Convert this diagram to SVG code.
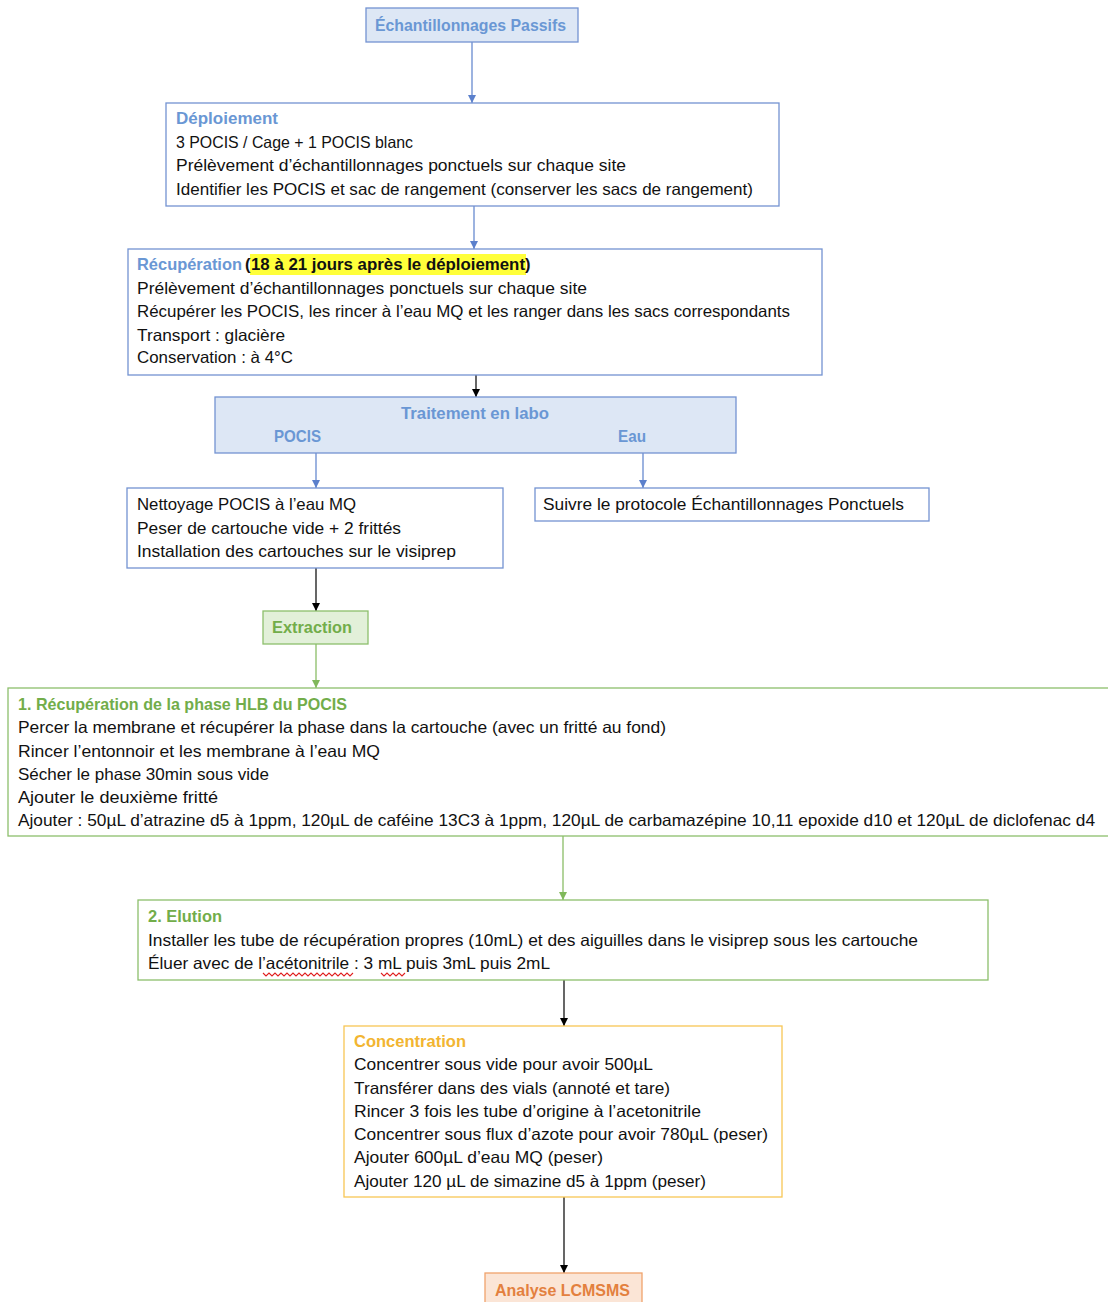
<svg xmlns="http://www.w3.org/2000/svg" width="1108" height="1302" viewBox="0 0 1108 1302">
<style>
text{font-family:"Liberation Sans",Arial,sans-serif;font-size:16.5px;fill:#111}
.h{font-weight:bold}
.hb{fill:#6a97d4;font-weight:bold}
.hg{fill:#72ad4a;font-weight:bold}
.ho{fill:#f2b531;font-weight:bold}
.ha{fill:#e3803e;font-weight:bold}
.bb{fill:#fff;stroke:#7393d2;stroke-width:1.3}
.bf{fill:#dde7f5;stroke:#7393d2;stroke-width:1.3}
.gb{fill:#fff;stroke:#8dbf6c;stroke-width:1.3}
.gf{fill:#e2f0d9;stroke:#8dbf6c;stroke-width:1.3}
.ob{fill:#fff;stroke:#f7c655;stroke-width:1.3}
.af{fill:#fbe5d6;stroke:#f0a36c;stroke-width:1.3}
.cb{stroke:#5b80cc;stroke-width:1.2;fill:none;marker-end:url(#mb)}
.ck{stroke:#000;stroke-width:1.2;fill:none;marker-end:url(#mk)}
.cg{stroke:#80b85a;stroke-width:1.2;fill:none;marker-end:url(#mg)}
.sq{stroke:#e02020;stroke-width:1.1;fill:none}
</style>
<defs>
<marker id="mb" viewBox="0 0 10 10" refX="10" refY="5" markerWidth="8" markerHeight="8" markerUnits="userSpaceOnUse" orient="auto"><path d="M0,0L10,5L0,10z" fill="#5b80cc"/></marker>
<marker id="mk" viewBox="0 0 10 10" refX="10" refY="5" markerWidth="8" markerHeight="8" markerUnits="userSpaceOnUse" orient="auto"><path d="M0,0L10,5L0,10z" fill="#000"/></marker>
<marker id="mg" viewBox="0 0 10 10" refX="10" refY="5" markerWidth="8" markerHeight="8" markerUnits="userSpaceOnUse" orient="auto"><path d="M0,0L10,5L0,10z" fill="#80b85a"/></marker>
</defs>
<rect width="1108" height="1302" fill="#fff"/>

<g id="connectors">
<line class="cb" x1="472" y1="42" x2="472" y2="103"/>
<line class="cb" x1="474" y1="206" x2="474" y2="249"/>
<line class="ck" x1="476" y1="375" x2="476" y2="397"/>
<line class="cb" x1="316" y1="453" x2="316" y2="488"/>
<line class="cb" x1="643" y1="453" x2="643" y2="488"/>
<line class="ck" x1="316" y1="568" x2="316" y2="611"/>
<line class="cg" x1="316" y1="644" x2="316" y2="688"/>
<line class="cg" x1="563" y1="836" x2="563" y2="900"/>
<line class="ck" x1="564" y1="980" x2="564" y2="1026"/>
<line class="ck" x1="564" y1="1197" x2="564" y2="1273"/>
</g>

<g id="n-titre">
<rect class="bf" x="366" y="8" width="212" height="34"/>
<text class="hb" x="375" y="31" textLength="191" lengthAdjust="spacingAndGlyphs">Échantillonnages Passifs</text>
</g>

<g id="n-deploiement">
<rect class="bb" x="166" y="103" width="613" height="103"/>
<text class="hb" x="176" y="124" textLength="102" lengthAdjust="spacingAndGlyphs">Déploiement</text>
<text x="176" y="148" textLength="237" lengthAdjust="spacingAndGlyphs">3 POCIS / Cage + 1 POCIS blanc</text>
<text x="176" y="171" textLength="450" lengthAdjust="spacingAndGlyphs">Prélèvement d’échantillonnages ponctuels sur chaque site</text>
<text x="176" y="195" textLength="577" lengthAdjust="spacingAndGlyphs">Identifier les POCIS et sac de rangement (conserver les sacs de rangement)</text>
</g>

<g id="n-recuperation">
<rect class="bb" x="128" y="249" width="694" height="126"/>
<rect x="250" y="254" width="276" height="21" fill="#ffff3a"/>
<text class="hb" x="137" y="270" textLength="105" lengthAdjust="spacingAndGlyphs">Récupération</text>
<text class="h" x="245" y="270">(</text>
<text class="h" x="251" y="270" textLength="274" lengthAdjust="spacingAndGlyphs">18 à 21 jours après le déploiement</text>
<text class="h" x="525" y="270">)</text>
<text x="137" y="294" textLength="450" lengthAdjust="spacingAndGlyphs">Prélèvement d’échantillonnages ponctuels sur chaque site</text>
<text x="137" y="317" textLength="653" lengthAdjust="spacingAndGlyphs">Récupérer les POCIS, les rincer à l’eau MQ et les ranger dans les sacs correspondants</text>
<text x="137" y="341" textLength="148" lengthAdjust="spacingAndGlyphs">Transport : glacière</text>
<text x="137" y="363" textLength="156" lengthAdjust="spacingAndGlyphs">Conservation : à 4°C</text>
</g>

<g id="n-traitement">
<rect class="bf" x="215" y="397" width="521" height="56"/>
<text class="hb" x="401" y="419" textLength="148" lengthAdjust="spacingAndGlyphs">Traitement en labo</text>
<text class="hb" x="274" y="442" textLength="47" lengthAdjust="spacingAndGlyphs">POCIS</text>
<text class="hb" x="618" y="442" textLength="28" lengthAdjust="spacingAndGlyphs">Eau</text>
</g>

<g id="n-nettoyage">
<rect class="bb" x="127" y="488" width="376" height="80"/>
<text x="137" y="510" textLength="219" lengthAdjust="spacingAndGlyphs">Nettoyage POCIS à l’eau MQ</text>
<text x="137" y="534" textLength="264" lengthAdjust="spacingAndGlyphs">Peser de cartouche vide + 2 frittés</text>
<text x="137" y="557" textLength="319" lengthAdjust="spacingAndGlyphs">Installation des cartouches sur le visiprep</text>
</g>

<g id="n-suivre">
<rect class="bb" x="535" y="488" width="394" height="33"/>
<text x="543" y="510" textLength="361" lengthAdjust="spacingAndGlyphs">Suivre le protocole Échantillonnages Ponctuels</text>
</g>

<g id="n-extraction">
<rect class="gf" x="263" y="611" width="105" height="33"/>
<text class="hg" x="272" y="633" textLength="80" lengthAdjust="spacingAndGlyphs">Extraction</text>
</g>

<g id="n-hlb">
<rect class="gb" x="8" y="688" width="1110" height="148"/>
<text class="hg" x="18" y="710" textLength="329" lengthAdjust="spacingAndGlyphs">1. Récupération de la phase HLB du POCIS</text>
<text x="18" y="733" textLength="648" lengthAdjust="spacingAndGlyphs">Percer la membrane et récupérer la phase dans la cartouche (avec un fritté au fond)</text>
<text x="18" y="757" textLength="362" lengthAdjust="spacingAndGlyphs">Rincer l’entonnoir et les membrane à l’eau MQ</text>
<text x="18" y="780" textLength="251" lengthAdjust="spacingAndGlyphs">Sécher le phase 30min sous vide</text>
<text x="18" y="803" textLength="200" lengthAdjust="spacingAndGlyphs">Ajouter le deuxième fritté</text>
<text x="18" y="826" textLength="1077" lengthAdjust="spacingAndGlyphs">Ajouter : 50µL d’atrazine d5 à 1ppm, 120µL de caféine 13C3 à 1ppm, 120µL de carbamazépine 10,11 epoxide d10 et 120µL de diclofenac d4</text>
</g>

<g id="n-elution">
<rect class="gb" x="138" y="900" width="850" height="80"/>
<text class="hg" x="148" y="922" textLength="74" lengthAdjust="spacingAndGlyphs">2. Elution</text>
<text x="148" y="946" textLength="770" lengthAdjust="spacingAndGlyphs">Installer les tube de récupération propres (10mL) et des aiguilles dans le visiprep sous les cartouche</text>
<text x="148" y="969" textLength="402" lengthAdjust="spacingAndGlyphs">Éluer avec de l’acétonitrile : 3 mL puis 3mL puis 2mL</text>
<path class="sq" d="M263,973 l3,3 l3,-3 l3,3 l3,-3 l3,3 l3,-3 l3,3 l3,-3 l3,3 l3,-3 l3,3 l3,-3 l3,3 l3,-3 l3,3 l3,-3 l3,3 l3,-3 l3,3 l3,-3 l3,3 l3,-3 l3,3 l3,-3 l3,3 l3,-3 l3,3 l3,-3 l3,3 l3,-3"/>
<path class="sq" d="M381,973 l3,3 l3,-3 l3,3 l3,-3 l3,3 l3,-3 l3,3 l3,-3"/>
</g>

<g id="n-concentration">
<rect class="ob" x="344" y="1026" width="438" height="171"/>
<text class="ho" x="354" y="1047" textLength="112" lengthAdjust="spacingAndGlyphs">Concentration</text>
<text x="354" y="1070" textLength="299" lengthAdjust="spacingAndGlyphs">Concentrer sous vide pour avoir 500µL</text>
<text x="354" y="1094" textLength="316" lengthAdjust="spacingAndGlyphs">Transférer dans des vials (annoté et tare)</text>
<text x="354" y="1117" textLength="347" lengthAdjust="spacingAndGlyphs">Rincer 3 fois les tube d’origine à l’acetonitrile</text>
<text x="354" y="1140" textLength="414" lengthAdjust="spacingAndGlyphs">Concentrer sous flux d’azote pour avoir 780µL (peser)</text>
<text x="354" y="1163" textLength="249" lengthAdjust="spacingAndGlyphs">Ajouter 600µL d’eau MQ (peser)</text>
<text x="354" y="1187" textLength="352" lengthAdjust="spacingAndGlyphs">Ajouter 120 µL de simazine d5 à 1ppm (peser)</text>
</g>

<g id="n-analyse">
<rect class="af" x="485" y="1273" width="157" height="40"/>
<text class="ha" x="495" y="1296" textLength="135" lengthAdjust="spacingAndGlyphs">Analyse LCMSMS</text>
</g>
</svg>
